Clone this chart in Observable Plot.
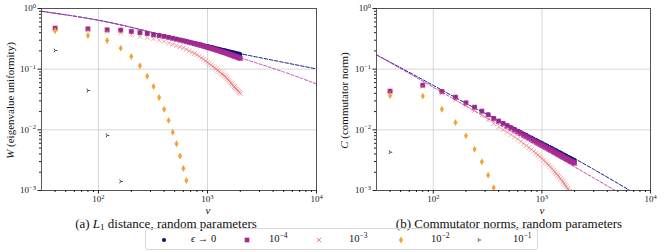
<!DOCTYPE html>
<html><head><meta charset="utf-8">
<script src="https://cdn.jsdelivr.net/npm/d3@7"></script>
<script src="https://cdn.jsdelivr.net/npm/@observablehq/plot@0.6"></script>
<style>
body{margin:0;background:#fff;}
#wrap{position:relative;width:664px;height:252px;font-family:"Liberation Serif","Times New Roman",serif;color:#111;overflow:hidden;}
.panel{position:absolute;top:0;}
.lab{position:absolute;white-space:nowrap;line-height:1;}
.ylab{font-size:11px;width:200px;text-align:center;transform:rotate(-90deg);}
.cap{font-size:13px;width:320px;text-align:center;}
.nu{font-size:11px;}
#legend{position:absolute;left:145px;top:228px;width:393px;height:22px;border:1px solid #d8d8d8;border-radius:3px;box-sizing:border-box;font-size:10.5px;}
#legend .it{position:absolute;top:4px;white-space:nowrap;}
#legend svg{position:absolute;top:6px;}
sup{font-size:7.5px;vertical-align:4px;line-height:0;}
</style></head><body><div id="wrap"></div>
<script>
// ---------- data ----------
const nu = [40,80,120,160,200,240,280,320,360,400,440,480,520,560,600,640,680,720,760,800,
  840,880,920,960,1000,1040,1080,1120,1160,1200,1240,1280,1320,1360,1400,1440,1480,1520,1560,1600,
  1640,1680,1720,1760,1800,1840,1880,1920,1960,2000];

// (a) W, eigenvalue uniformity
const W_eps0 = [0.474,0.462,0.445,0.44,0.418,0.40,0.388,0.37,0.36,0.35,
  0.337,0.325,0.315,0.305,0.297,0.289,0.281,0.275,0.269,0.263,0.258,0.253,0.248,0.243,0.239,
  0.235,0.232,0.228,0.225,0.221,0.218,0.215,0.212,0.209,0.207,0.204,0.202,0.199,0.197,0.195,
  0.193,0.191,0.188,0.187,0.185,0.183,0.181,0.180,0.178,0.176];
const W_1e4 = [0.474,0.462,0.445,0.44,0.418,0.40,0.387,0.368,0.358,0.346,
  0.334,0.322,0.311,0.302,0.293,0.284,0.277,0.270,0.263,0.256,0.250,0.245,0.239,0.234,0.229,
  0.224,0.220,0.216,0.212,0.208,0.204,0.200,0.196,0.193,0.190,0.187,0.184,0.181,0.178,0.175,
  0.172,0.170,0.167,0.164,0.162,0.160,0.158,0.155,0.153,0.151];
const W_1e3 = [0.465,0.45,0.42,0.397,0.373,0.345,0.333,0.317,0.30,0.286,
  0.270,0.256,0.244,0.233,0.224,0.211,0.200,0.190,0.181,0.173,0.163,0.153,0.145,0.137,0.130,
  0.123,0.117,0.111,0.105,0.100,0.0957,0.0914,0.0873,0.0836,0.0804,0.0773,0.0733,0.0693,0.0658,0.0625,
  0.0594,0.0567,0.0538,0.0514,0.0493,0.0471,0.0452,0.0433,0.0415,0.0398];
const W_1e2 = [0.43,0.36,0.297,0.222,0.162,0.114,0.0766,0.0518,0.0341,0.0219,0.0143,0.0091,0.0059,0.0037,0.0023,0.00146];
const W_1e1 = [0.203,0.0445,0.0081,0.00141];
const fitNuW = [30,100,300,1000,2000,10000];
const W_fit_eps0 = [0.90,0.64,0.41,0.24,0.18,0.101];
const fitNuW2 = [30,100,300,1000,2000,5000,10000];
const W_fit_1e4 = [0.90,0.64,0.405,0.225,0.154,0.090,0.057];

// (b) C, commutator norm
const C_eps0 = [0.0434,0.0545,0.0429,0.0345,0.0279,0.0236,0.0204,0.0178,0.0156,0.0140,
  0.01294,0.01191,0.01104,0.01030,0.00966,0.00910,0.00859,0.00815,0.00774,0.00738,0.00705,0.00676,0.00647,0.00622,0.00598,
  0.00577,0.00557,0.00538,0.00521,0.00505,0.00490,0.00475,0.00461,0.00449,0.00437,0.00426,0.00415,0.00405,0.00394,0.00385,
  0.00377,0.00368,0.00360,0.00352,0.00345,0.00338,0.00331,0.00325,0.00318,0.00313];
const C_1e4 = [0.0434,0.0545,0.0429,0.0345,0.0279,0.0236,0.0203,0.0177,0.0154,0.0139,
  0.01265,0.01161,0.01072,0.00996,0.00930,0.00873,0.00820,0.00776,0.00736,0.00700,0.00667,0.00637,0.00608,0.00583,0.00561,
  0.00540,0.00520,0.00501,0.00484,0.00468,0.00453,0.00440,0.00426,0.00413,0.00402,0.00391,0.00380,0.00370,0.00361,0.00352,
  0.00343,0.00336,0.00327,0.00320,0.00313,0.00306,0.00300,0.00294,0.00288,0.00282];
const C_1e3 = [0.042,0.052,0.0402,0.0316,0.0255,0.0208,0.0172,0.0146,0.0126,0.0111,
  0.01004,0.00912,0.00832,0.00762,0.00700,0.00644,0.00593,0.00550,0.00509,0.00473,0.00441,0.00411,0.00384,0.00360,0.00337,
  0.00316,0.00296,0.00278,0.00261,0.00244,0.00230,0.00215,0.00201,0.00189,0.00178,0.00168,0.00157,0.00148,0.00139,0.00131,
  0.00123,0.00116,0.00109,0.00103,0.00097,0.00092,0.00087,0.00082,0.00077,0.00073];
const C_1e2 = [0.0364,0.0359,0.0219,0.0132,0.00796,0.0048,0.00297,0.00179,0.00111];
const C_1e1 = [0.00428];
const fitNuC = [30,100,300,1000,3000,10000];
const C_fit_eps0 = [0.172,0.054,0.0187,0.00646,0.00223,0.00063];
const C_fit_1e4 = [0.172,0.0504,0.0163,0.00496,0.00161,0.000453];

// ticks
const xMajor = [100,1000,10000];
const xMinor = [40,50,60,70,80,90,200,300,400,500,600,700,800,900,2000,3000,4000,5000,6000,7000,8000,9000];
const yMajor = [0.001,0.01,0.1,1];
const yMinor = [0.002,0.003,0.004,0.005,0.006,0.007,0.008,0.009,0.02,0.03,0.04,0.05,0.06,0.07,0.08,0.09,0.2,0.3,0.4,0.5,0.6,0.7,0.8,0.9];

const seriesNames = ["ϵ → 0","10⁻⁴","10⁻³","10⁻²","10⁻¹"];
const colors = {eps0:"#13117a", e4:"#a82a90", e3:"#ee6464", e2:"#f8a030", e1:"#333333", fit1:"#1c1c8c", fit2:"#c43ab2"};

// ---------- helpers ----------
const rows = (vals, xs = nu) => vals.map((v, i) => ({nu: xs[i], v}));
const fmt = v => `10|${Math.round(Math.log10(v))}`;
const tri = {draw(ctx, size){ const r = Math.sqrt(size/Math.PI);
  ctx.moveTo(0,0); ctx.lineTo(r,0);
  ctx.moveTo(0,0); ctx.lineTo(-r*0.5,-r*0.866);
  ctx.moveTo(0,0); ctx.lineTo(-r*0.5, r*0.866);}};

function supLabels(svg){
  d3.select(svg).selectAll("text").each(function(){
    const m = /^10\|(-?\d+)$/.exec(this.textContent);
    if(!m) return;
    const el = d3.select(this);
    el.text(null);
    el.append("tspan").text("10");
    el.append("tspan").attr("dy","-0.5em").attr("font-size","6.5px").text(m[1].replace("-","−"));
  });
}

function panel(cfg){
  const svg = Plot.plot({
    width:332, height:215, marginTop:8, marginBottom:25, marginLeft:cfg.ml, marginRight:cfg.mr,
    style:{fontFamily:"'Liberation Serif', serif", fontSize:"9px", color:"#222", background:"transparent", overflow:"visible"},
    x:{type:"log", domain:[30,1e4]},
    y:{type:"log", domain:[1e-3,1]},
    marks:[
      Plot.ruleX(xMajor,{stroke:"#d2d2d2", strokeWidth:0.9}),
      Plot.ruleY(yMajor,{stroke:"#d2d2d2", strokeWidth:0.9}),
      Plot.line(rows(cfg.fitEps0, cfg.fitNu1), {x:"nu", y:"v", stroke:colors.fit1, strokeWidth:1, strokeDasharray:"3.5,1.8", curve:"natural", clip:true}),
      Plot.line(rows(cfg.fitE4, cfg.fitNu2), {x:"nu", y:"v", stroke:colors.fit2, strokeWidth:0.9, strokeDasharray:"3,1.8", strokeDashoffset:1.5, curve:"natural", clip:true}),
      Plot.dot(rows(cfg.eps0), {x:"nu", y:"v", r:2.1, fill:colors.eps0, clip:true}),
      Plot.dot(rows(cfg.e4), {x:"nu", y:"v", symbol:"square", r:2.8, fill:colors.e4, fillOpacity:0.85, clip:true}),
      Plot.dot(rows(cfg.e3), {x:"nu", y:"v", symbol:"times", r:2.2, fill:"none", stroke:colors.e3, strokeWidth:0.8, strokeOpacity:0.75, clip:true}),
      Plot.dot(rows(cfg.e2), {x:"nu", y:"v", symbol:"diamond", r:2.1, fill:colors.e2, clip:true}),
      Plot.dot(rows(cfg.e1), {x:"nu", y:"v", symbol:tri, r:2.2, fill:"none", stroke:colors.e1, strokeWidth:0.9, clip:true}),
      Plot.frame({stroke:"#333", strokeWidth:0.8}),
      Plot.axisX(xMajor, {tickSize:3.5, tickPadding:2, tickFormat:fmt, label:null}),
      Plot.axisX(xMinor, {tickSize:2, tickFormat:() => "", label:null}),
      Plot.axisY(yMajor, {tickSize:3.5, tickPadding:2, tickFormat:fmt, label:null}),
      Plot.axisY(yMinor, {tickSize:2, tickFormat:() => "", label:null})
    ]
  });
  supLabels(svg);
  svg.classList.add("panel");
  svg.style.left = cfg.left + "px";
  return svg;
}

const wrap = document.getElementById("wrap");
wrap.appendChild(panel({left:0, ml:41, mr:16, eps0:W_eps0, e4:W_1e4, e3:W_1e3, e2:W_1e2, e1:W_1e1,
  fitNu1:fitNuW, fitEps0:W_fit_eps0, fitNu2:fitNuW2, fitE4:W_fit_1e4}));
wrap.appendChild(panel({left:332, ml:44, mr:14, eps0:C_eps0, e4:C_1e4, e3:C_1e3, e2:C_1e2, e1:C_1e1,
  fitNu1:fitNuC, fitEps0:C_fit_eps0, fitNu2:fitNuC, fitE4:C_fit_1e4}));

function addLab(html, cls, cx, cy){
  const d = document.createElement("div");
  d.className = "lab " + cls; d.innerHTML = html;
  wrap.appendChild(d);
  const w = d.offsetWidth, h = d.offsetHeight;
  d.style.left = (cx - w/2) + "px"; d.style.top = (cy - h/2) + "px";
}
addLab("<i>W</i> (eigenvalue uniformity)", "ylab", 10, 100);
addLab("<i>C</i> (commutator norm)", "ylab", 344, 100);
addLab("<i>ν</i>", "nu", 208, 210);
addLab("<i>ν</i>", "nu", 542, 210);
addLab("(a) <i>L</i><sub style='font-size:9px;vertical-align:-2px;line-height:0'>1</sub> distance, random parameters", "cap", 166, 223.2);
addLab("(b) Commutator norms, random parameters", "cap", 509, 223.2);

// legend
const leg = document.createElement("div"); leg.id = "legend"; wrap.appendChild(leg);
const legItems = [
  {sym:d3.symbolCircle, size:14, fill:colors.eps0, stroke:"none", html:"<i>ϵ</i> → 0", mx:18, tx:45},
  {sym:d3.symbolSquare, size:22, fill:colors.e4, stroke:"none", html:"10<sup>−4</sup>", mx:101, tx:123},
  {sym:d3.symbolTimes, size:14, fill:"none", stroke:colors.e3, html:"10<sup>−3</sup>", mx:173, tx:203},
  {sym:d3.symbolDiamond, size:14, fill:colors.e2, stroke:"none", html:"10<sup>−2</sup>", mx:255, tx:285},
  {sym:tri, size:15, fill:"none", stroke:colors.e1, html:"10<sup>−1</sup>", mx:333, tx:367}
];
legItems.forEach((it, i) => {
  const s = d3.create("svg").attr("width",10).attr("height",10).style("left",(it.mx-5)+"px");
  s.append("path").attr("transform","translate(5,5)").attr("d", d3.symbol(it.sym, it.size)())
    .attr("fill", it.fill).attr("stroke", it.stroke).attr("stroke-width", 0.8);
  leg.appendChild(s.node());
  const t = document.createElement("span"); t.className = "it"; t.innerHTML = it.html; t.title = seriesNames[i];
  t.style.left = it.tx + "px"; leg.appendChild(t);
});
</script>
</body></html>
